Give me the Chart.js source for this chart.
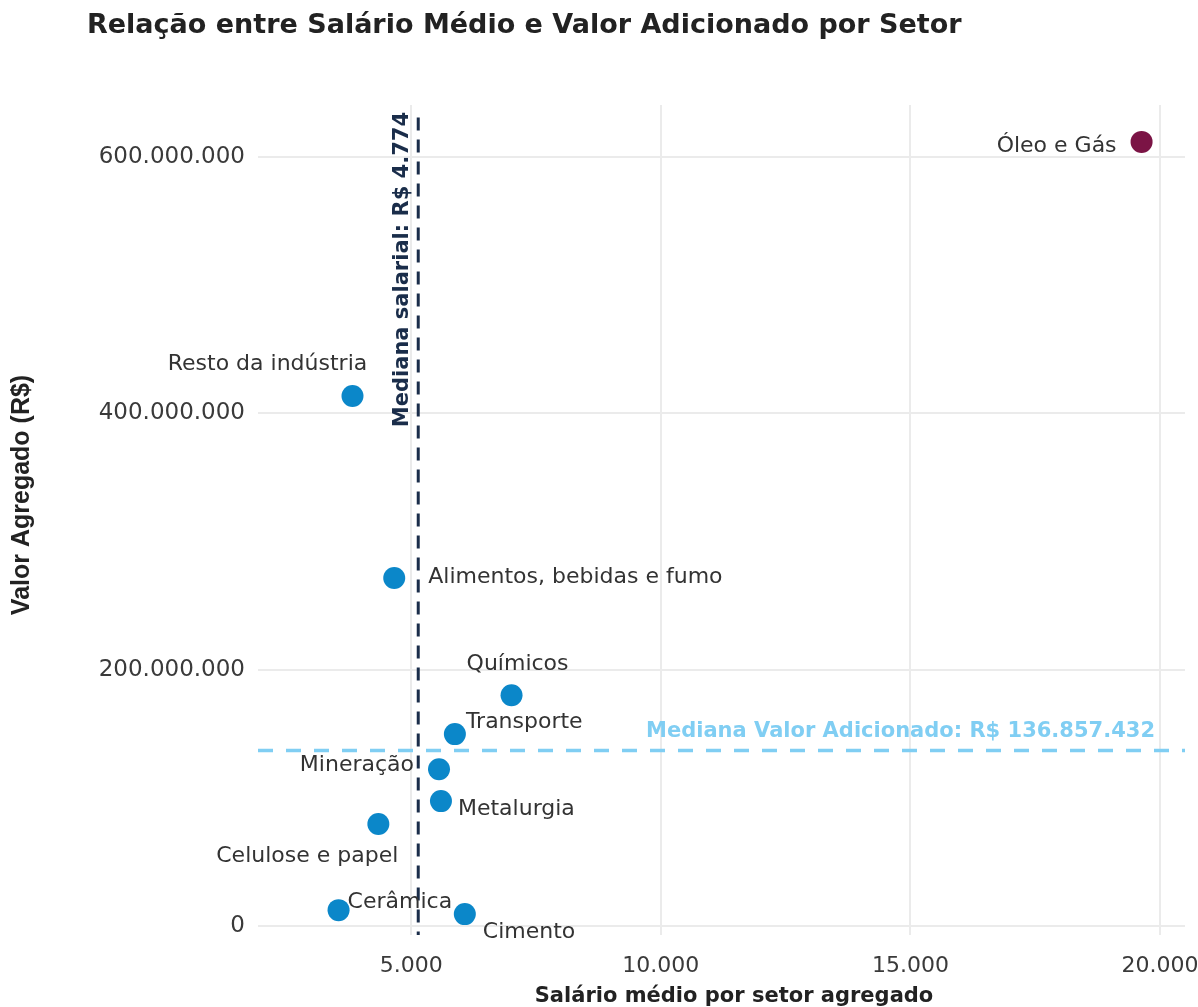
<!DOCTYPE html>
<html>
<head>
<meta charset="utf-8">
<script src="https://cdn.jsdelivr.net/npm/chart.js@4/dist/chart.umd.min.js"></script>
<style>
  body { margin: 0; background: #ffffff; }
  #wrap { width: 1198px; height: 1007px; }
</style>
</head>
<body>
<div id="wrap"><canvas id="chart" width="1198" height="1007"></canvas></div>
<script>
// Sectors and their values
var sectors = ['Óleo e Gás', 'Resto da indústria', 'Alimentos, bebidas e fumo', 'Químicos', 'Transporte',
               'Mineração', 'Metalurgia', 'Celulose e papel', 'Cerâmica', 'Cimento'];
var salaries = [19630, 3823, 4659, 7009, 5874, 5556, 5595, 4341, 3544, 6073];   // salário médio (R$)
var valueAdded = [611.9e6, 413.6e6, 271.5e6, 180.0e6, 149.7e6, 122.3e6, 97.4e6, 79.5e6, 12.3e6, 9.2e6]; // valor adicionado (R$)
var highlighted = ['Óleo e Gás'];

var xTicks = [5000, 10000, 15000, 20000];
var yTicks = [0, 200e6, 400e6, 600e6];

var medianSalaryLineX = 5140;        // where the dashed line sits in the picture
var medianSalaryText = 'Mediana salarial: R$ 4.774';
var medianValue = 136857432;
var medianValueText = 'Mediana Valor Adicionado: R$ 136.857.432';

var xRange = [1930, 20500];
var yRange = [-7.1e6, 640.7e6];
var salaryLineTop = 631e6;

// label placement (pixel offsets from the point) - layout only
var labelLayout = [
  { dx: -25, dy: 4, align: 'right' },
  { dx: -85, dy: -32, align: 'center' },
  { dx: 34, dy: -1, align: 'left' },
  { dx: 6, dy: -31, align: 'center' },
  { dx: 11, dy: -12, align: 'left' },
  { dx: -25, dy: -4, align: 'right' },
  { dx: 17, dy: 8, align: 'left' },
  { dx: 20, dy: 32, align: 'right' },
  { dx: 9, dy: -8, align: 'left' },
  { dx: 18, dy: 18, align: 'left' }
];

var BLUE = '#0b87c9';
var MAROON = '#7b1445';
var NAVY = '#1a2d4a';
var LIGHT_BLUE = '#80cef3';
var FONT = '"DejaVu Sans", sans-serif';

function fmtBR(v) {
  return String(Math.round(v)).replace(/\B(?=(\d{3})+(?!\d))/g, '.');
}

var points = sectors.map(function (s, i) { return { x: salaries[i], y: valueAdded[i] }; });
var pointColors = sectors.map(function (s) { return highlighted.includes(s) ? MAROON : BLUE; });

// Draws the title, axis titles, point labels and median annotations
var annotations = {
  id: 'annotations',
  afterDatasetsDraw: function (chart) {
    var ctx = chart.ctx;
    var xs = chart.scales.x, ys = chart.scales.y;
    ctx.save();

    // point labels
    ctx.font = '22px ' + FONT;
    ctx.fillStyle = '#333333';
    ctx.textBaseline = 'middle';
    sectors.forEach(function (s, i) {
      var px = xs.getPixelForValue(salaries[i]);
      var py = ys.getPixelForValue(valueAdded[i]);
      ctx.textAlign = labelLayout[i].align;
      ctx.fillText(s, px + labelLayout[i].dx, py + labelLayout[i].dy);
    });

    // median salary label (rotated)
    var lx = xs.getPixelForValue(medianSalaryLineX);
    ctx.save();
    ctx.translate(lx - 16, 112);
    ctx.rotate(-Math.PI / 2);
    ctx.font = 'bold 21px ' + FONT;
    ctx.fillStyle = NAVY;
    ctx.textAlign = 'right';
    ctx.textBaseline = 'middle';
    ctx.fillText(medianSalaryText, 0, 0);
    ctx.restore();

    // median value label
    var ly = ys.getPixelForValue(medianValue);
    ctx.font = 'bold 21px ' + FONT;
    ctx.fillStyle = LIGHT_BLUE;
    ctx.textAlign = 'right';
    ctx.textBaseline = 'middle';
    ctx.fillText(medianValueText, chart.chartArea.right - 30, ly - 19);

    // title
    ctx.font = 'bold 27px ' + FONT;
    ctx.fillStyle = '#222222';
    ctx.textAlign = 'left';
    ctx.fillText('Relação entre Salário Médio e Valor Adicionado por Setor', 87, 26);

    // axis titles
    ctx.font = 'bold 21px ' + FONT;
    ctx.textAlign = 'center';
    ctx.fillText('Salário médio por setor agregado', 734, 997);

    ctx.save();
    ctx.translate(22, 495);
    ctx.rotate(-Math.PI / 2);
    ctx.font = 'bold 25px "Liberation Sans", Arial, sans-serif';
    ctx.fillText('Valor Agregado (R$)', 0, 0);
    ctx.restore();

    ctx.restore();
  }
};

function noEdgePadding(scale) {
  scale.paddingLeft = 0;
  scale.paddingRight = 0;
  scale.paddingTop = 0;
  scale.paddingBottom = 0;
}

var ctx = document.getElementById('chart').getContext('2d');
new Chart(ctx, {
  type: 'scatter',
  data: {
    datasets: [
      {
        label: 'Setores',
        data: points,
        backgroundColor: pointColors,
        borderWidth: 0,
        pointRadius: 11,
        pointHoverRadius: 11,
        order: 0
      },
      {
        label: 'Mediana salarial',
        data: [{ x: medianSalaryLineX, y: salaryLineTop }, { x: medianSalaryLineX, y: yRange[0] }],
        showLine: true,
        borderColor: NAVY,
        borderWidth: 3,
        borderDash: [13, 9],
        pointRadius: 0,
        order: 2
      },
      {
        label: 'Mediana valor adicionado',
        data: [{ x: xRange[0], y: medianValue }, { x: xRange[1], y: medianValue }],
        showLine: true,
        borderColor: LIGHT_BLUE,
        borderWidth: 3.5,
        borderDash: [15, 13],
        pointRadius: 0,
        order: 1
      }
    ]
  },
  options: {
    responsive: false,
    animation: false,
    layout: { padding: { top: 105, right: 13, left: 0, bottom: 0 } },
    plugins: {
      legend: { display: false },
      tooltip: { enabled: false },
      title: { display: false }
    },
    scales: {
      x: {
        type: 'linear',
        min: xRange[0],
        max: xRange[1],
        afterFit: function (scale) { scale.height = 72; noEdgePadding(scale); },
        afterBuildTicks: function (scale) { scale.ticks = xTicks.map(function (v) { return { value: v }; }); },
        grid: { color: '#ebebeb', lineWidth: 2, drawTicks: false },
        border: { display: false },
        ticks: {
          padding: 18,
          color: '#3a3a3a',
          font: { family: FONT, size: 22 },
          maxRotation: 0,
          callback: function (v) { return fmtBR(v); }
        }
      },
      y: {
        type: 'linear',
        min: yRange[0],
        max: yRange[1],
        afterFit: function (scale) { scale.width = 258; noEdgePadding(scale); },
        afterBuildTicks: function (scale) { scale.ticks = yTicks.map(function (v) { return { value: v }; }); },
        grid: { color: '#ebebeb', lineWidth: 2, drawTicks: false },
        border: { display: false },
        ticks: {
          padding: 13,
          color: '#3a3a3a',
          font: { family: FONT, size: 23 },
          callback: function (v) { return fmtBR(v); }
        }
      }
    }
  },
  plugins: [annotations]
});
</script>
</body>
</html>
